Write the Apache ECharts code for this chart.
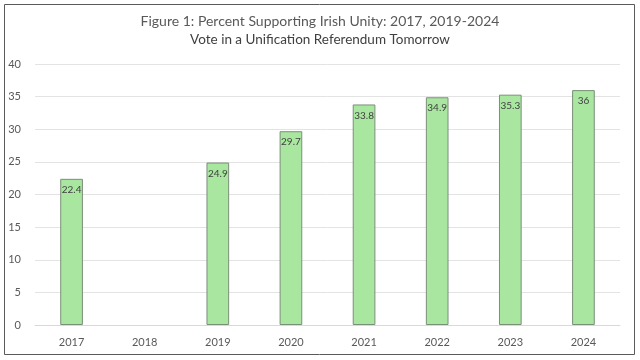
<!DOCTYPE html>
<html><head><meta charset="utf-8">
<script src="https://cdn.jsdelivr.net/npm/echarts@6/dist/echarts.min.js"></script>
<style>html,body{margin:0;padding:0;background:#fff}#c{width:640px;height:360px}</style>
</head><body><div id="c"></div>
<script>
const categories = ['2017','2018','2019','2020','2021','2022','2023','2024'];
const values = [22.4, null, 24.9, 29.7, 33.8, 34.9, 35.3, 36];
const yTicks = [0,5,10,15,20,25,30,35,40];

const chart = echarts.init(document.getElementById('c'));
const font = 'Lato, "Open Sans", sans-serif';
chart.setOption({
  animation: false,
  textStyle: {fontFamily: font},
  title: {
    text: 'Figure 1: Percent Supporting Irish Unity: 2017, 2019-2024',
    subtext: 'Vote in a Unification Referendum Tomorrow',
    left: 'center', top: 9, itemGap: 5,
    textStyle: {fontFamily: font, fontSize: 14, fontWeight: 'normal', color: '#595959'},
    subtextStyle: {fontFamily: font, fontSize: 13.5, color: '#404040'}
  },
  graphic: [{type: 'rect', shape: {x: 4.5, y: 4.5, width: 630, height: 350}, style: {fill: null, stroke: '#5a5a5a', lineWidth: 1}, silent: true}],
  grid: {left: 35, right: 20, top: 64, bottom: 35, containLabel: false},
  xAxis: {
    type: 'category', data: categories,
    axisLine: {lineStyle: {color: '#d9d9d9'}},
    axisTick: {show: false},
    axisLabel: {color: '#595959', fontSize: 11, margin: 12, fontFamily: font}
  },
  yAxis: {
    type: 'value', min: yTicks[0], max: yTicks[yTicks.length-1], interval: 5,
    axisLine: {show: false}, axisTick: {show: false},
    splitLine: {lineStyle: {color: '#e3e3e3'}},
    axisLabel: {color: '#595959', fontSize: 11, margin: 14, fontFamily: font}
  },
  series: [{
    type: 'bar', data: values, barWidth: '31%',
    itemStyle: {color: '#a9e6a0', borderColor: '#7a8f78', borderWidth: 1},
    label: {show: true, position: 'insideTop', distance: 6, color: '#404040', fontSize: 10, fontFamily: font}
  }]
});
</script></body></html>
